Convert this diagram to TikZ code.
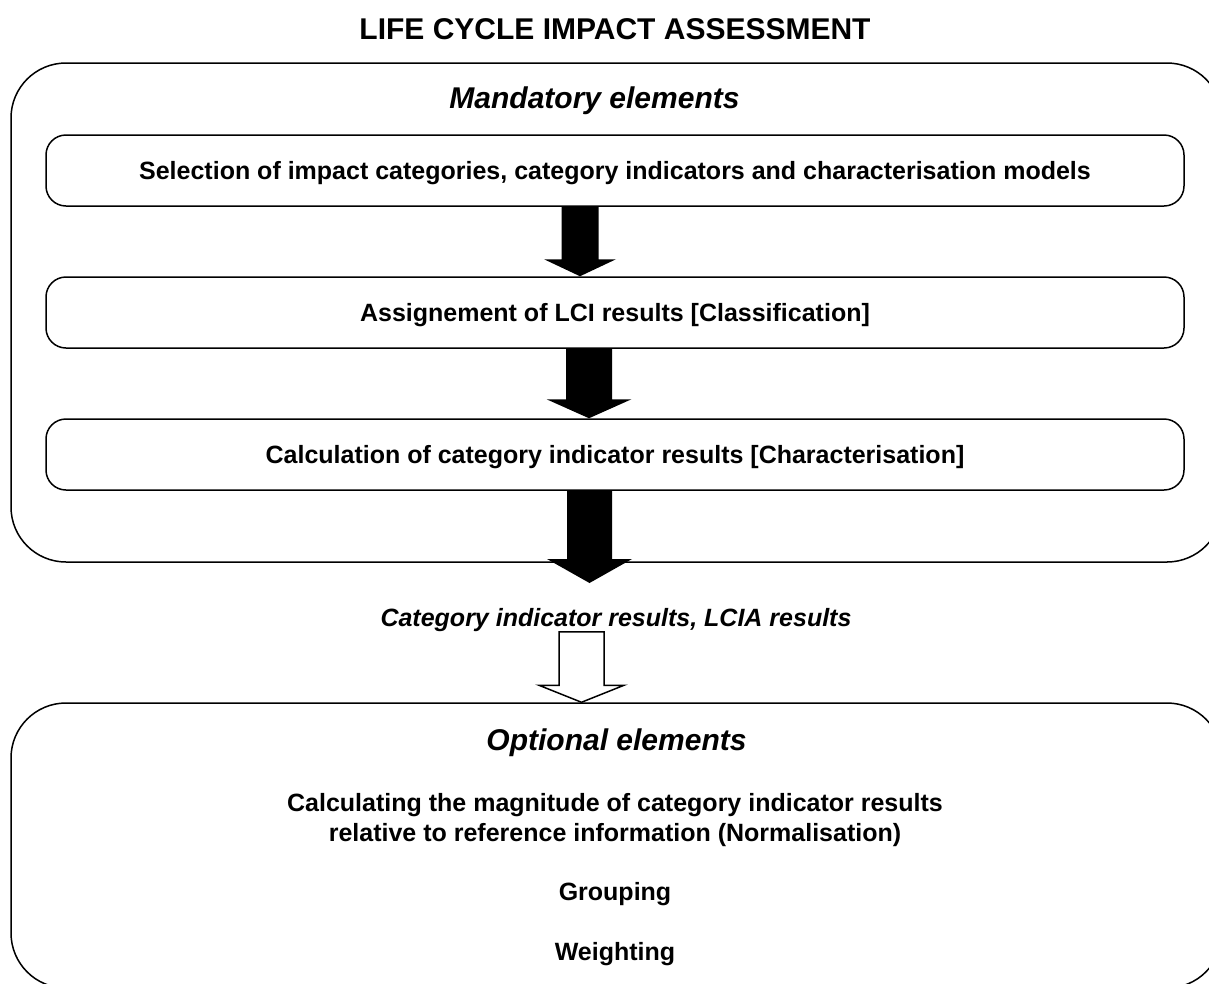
\documentclass[tikz,border=0pt]{standalone}
\usepackage{fontspec}
\setmainfont{Liberation Sans}
\usetikzlibrary{calc}

\tikzset{
  bigbox/.style={draw, line width=1.5pt, rounded corners=55pt, minimum width=1211pt},
  stepbox/.style={draw, line width=1.5pt, rounded corners=20pt, minimum width=1138pt, minimum height=71pt, text depth=0pt, font=\fontsize{25}{29}\selectfont\bfseries},
  heading/.style={font=\fontsize{30}{36}\selectfont\bfseries\itshape},
  txt/.style={font=\fontsize{25}{30}\selectfont\bfseries, align=center}
}

% block arrow: from, to, x, half shaft, half head, head length
\newcommand{\blockarrow}[6]{($(#3,0 |- #1.south)+(-#4,0)$) -- ($(#3,0 |- #2.north)+(-#4,-#6)$) -- ($(#3,0 |- #2.north)+(-#5,-#6)$) -- (#3,0 |- #2.north) -- ($(#3,0 |- #2.north)+(#5,-#6)$) -- ($(#3,0 |- #2.north)+(#4,-#6)$) -- ($(#3,0 |- #1.south)+(#4,0)$) -- cycle}

\begin{document}
\begin{tikzpicture}[x=1pt,y=-1pt]
	\useasboundingbox (0,0) rectangle (1209,983);
	\clip (0,0) rectangle (1209,983);

	\node[font=\fontsize{30}{36}\selectfont\bfseries] (title) at (615,29) {LIFE CYCLE IMPACT ASSESSMENT};

	\node[bigbox, minimum height=499pt] (mand) at (616.5,312.5) {};
	\node[heading] (mandlbl) at (594.5,101) {Mandatory elements};
	\node[stepbox] (sel) at (615,170.5) {Selection of impact categories, category indicators and characterisation models};
	\node[stepbox] (asg) at (615,312.5) {Assignement of LCI results [Classification]};
	\node[stepbox] (calc) at (615,454.5) {Calculation of category indicator results [Characterisation]};

	\node[font=\fontsize{25}{30}\selectfont\bfseries\itshape, inner sep=0pt] (res) at (616,620) {Category indicator results, LCIA results};
	\coordinate (restip) at (589.5,583);

	\node[bigbox, minimum height=285pt] (opt) at (616.5,845.5) {};
	\node[heading] (optlbl) at (616.5,743) {Optional elements};
	\node[txt] (norm) at (615,820) {Calculating the magnitude of category indicator results\\relative to reference information (Normalisation)};
	\node[txt] (group) at (615,894) {Grouping};
	\node[txt] (weight) at (615,954) {Weighting};

	\fill \blockarrow{sel}{asg}{580}{18.5}{36}{17};
	\fill \blockarrow{asg}{calc}{589}{23}{42.5}{19};
	\fill ($(589.5,0 |- calc.south)+(-22.5,0)$) -- ($(restip)+(-22.5,-24)$) -- ($(restip)+(-42.5,-24)$) -- (restip) -- ($(restip)+(42.5,-24)$) -- ($(restip)+(22.5,-24)$) -- ($(589.5,0 |- calc.south)+(22.5,0)$) -- cycle;
	\draw[line width=1.5pt, fill=white, line join=miter] \blockarrow{res}{opt}{581.5}{22.5}{42.5}{17};
\end{tikzpicture}
\end{document}
